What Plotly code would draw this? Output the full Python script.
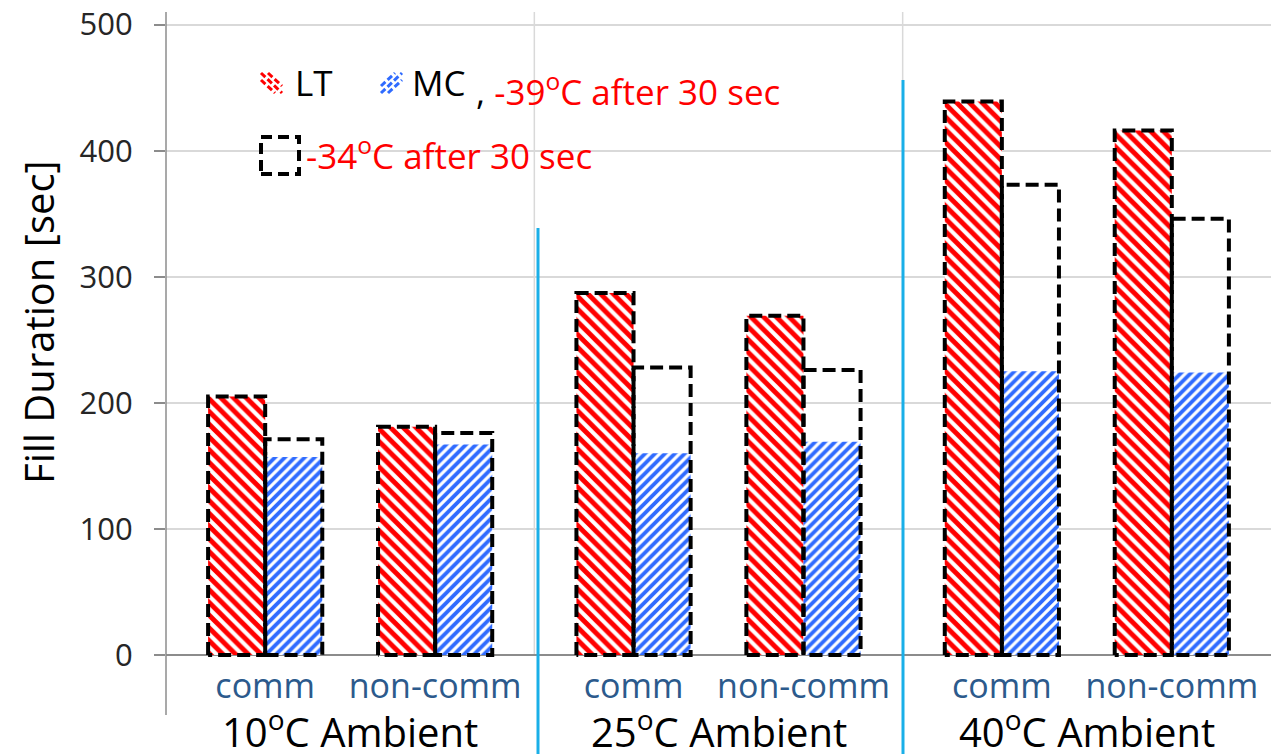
import plotly.graph_objects as go

# ---- data ----
groups = ["10<sup>o</sup>C Ambient", "25<sup>o</sup>C Ambient", "40<sup>o</sup>C Ambient"]
subcats = ["comm", "non-comm"]
lt_fill = [205, 181, 287, 269, 439, 416]        # LT fill duration [sec]
mc_fill_39 = [157, 167, 160, 169, 225, 224]     # MC, -39C after 30 sec
mc_fill_34 = [171, 176, 228, 226, 373, 346]     # MC, -34C after 30 sec
y_ticks = [0, 100, 200, 300, 400, 500]

# ---- layout geometry ----
W, H = 1273, 754
L, R, T, B = 166, 1271, 12, 665
FONT = "Open Sans"
RED = "#FF0000"
BLUE = "#2F6BFF"
SKY = "#1AAFE8"
GRID = "#D9D9D9"
AXIS = "#8C8C8C"
CAT = "#2C5A8C"

PAIR_OFF = 0.2307   # half distance between the two categories of a group
BAR_W = 0.155       # bar width in x units (one group = 1 unit)


def px(xpix):
    return (xpix - L) / (R - L)


def py(ypix):
    return (B - ypix) / (B - T)


centers = [g + 0.5 + (s - 0.5) * 2 * PAIR_OFF
           for g in range(len(groups)) for s in range(len(subcats))]
lt_x = [c - BAR_W / 2 for c in centers]
mc_x = [c + BAR_W / 2 for c in centers]
tick_text = [s for _ in groups for s in subcats]


def outline(xs, vals):
    ox, oy = [], []
    for xc, v in zip(xs, vals):
        x0, x1 = xc - BAR_W / 2, xc + BAR_W / 2
        ox += [x0, x0, x1, x1, x0, None]
        oy += [0, v, v, 0, 0, None]
    return ox, oy


fig = go.Figure()

fig.add_trace(go.Bar(
    x=lt_x, y=lt_fill, width=BAR_W, name="LT", opacity=1,
    marker=dict(color="white", opacity=1, line=dict(width=0),
                pattern=dict(shape="\\", fgcolor=RED, bgcolor="white",
                             fgopacity=1, size=9, solidity=0.55)),
))
fig.add_trace(go.Bar(
    x=mc_x, y=mc_fill_39, width=BAR_W, name="MC", opacity=1,
    marker=dict(color="white", opacity=1, line=dict(width=0),
                pattern=dict(shape="/", fgcolor=BLUE, bgcolor="white",
                             fgopacity=1, size=7, solidity=0.55)),
))

for xs, vals in ((lt_x, lt_fill), (mc_x, mc_fill_34)):
    ox, oy = outline(xs, vals)
    fig.add_trace(go.Scatter(
        x=ox, y=oy, mode="lines", hoverinfo="skip",
        line=dict(color="black", width=4, dash="13px,6px"),
    ))

shapes = []
# group dividers (vertical gridlines)
for g in range(1, len(groups)):
    shapes.append(dict(type="line", xref="x", yref="y", x0=g, x1=g, y0=0, y1=510,
                       line=dict(color=GRID, width=1.5), layer="below"))
# white text-box background behind the legend text
shapes.append(dict(type="rect", xref="paper", yref="paper",
                   x0=px(300), x1=px(622), y0=py(190), y1=py(55),
                   fillcolor="white", line=dict(width=0), layer="between"))
# value axis line, extended down through the category label area
shapes.append(dict(type="line", xref="paper", yref="paper",
                   x0=0, x1=0, y0=py(715), y1=1,
                   line=dict(color=AXIS, width=1.5)))
# separators between ambient groups
shapes.append(dict(type="line", xref="paper", yref="paper",
                   x0=px(538), x1=px(538), y0=py(754), y1=py(228),
                   line=dict(color=SKY, width=3), layer="above"))
shapes.append(dict(type="line", xref="paper", yref="paper",
                   x0=px(903), x1=px(903), y0=py(754), y1=py(80),
                   line=dict(color=SKY, width=3), layer="above"))

# legend swatches
for dx in (-7, 0, 7):
    shapes.append(dict(type="line", xref="paper", yref="paper",
                       x0=px(261 + max(dx, 0)), y0=py(73 - min(dx, 0)),
                       x1=px(282 + min(dx, 0)), y1=py(93 - max(dx, 0)),
                       line=dict(color=RED, width=3, dash="6px,3px"), layer="above"))
    shapes.append(dict(type="line", xref="paper", yref="paper",
                       x0=px(381 + max(dx, 0)), y0=py(93 + min(dx, 0)),
                       x1=px(402 + min(dx, 0)), y1=py(73 + max(dx, 0)),
                       line=dict(color=BLUE, width=3, dash="6px,3px"), layer="above"))
shapes.append(dict(type="rect", xref="paper", yref="paper",
                   x0=px(261), x1=px(299), y0=py(174), y1=py(137),
                   line=dict(color="black", width=4, dash="11px,6px"),
                   fillcolor="rgba(0,0,0,0)", layer="above"))


def note(text, x, y, size, color="black", xanchor="left", xref="paper", **kw):
    return dict(text=text, x=x, y=y, xref=xref, yref="paper",
                xanchor=xanchor, yanchor="middle", showarrow=False,
                font=dict(size=size, color=color, family=FONT), **kw)


annotations = [
    note("Fill Duration [sec]", px(38), py(322), 40, xanchor="center", textangle=-90),
    note("LT", px(293), py(83), 35),
    note("MC", px(410), py(83), 35),
    note("<span style='color:black'>,</span> -39<sup>o</sup>C after 30 sec",
         px(474), py(89), 35, color=RED),
    note("-34<sup>o</sup>C after 30 sec", px(304), py(154), 35, color=RED),
]
for g, name in enumerate(groups):
    annotations.append(note(name, g + 0.5, py(729), 40, xanchor="center", xref="x"))

fig.update_layout(
    width=W, height=H,
    margin=dict(l=L, r=W - R, t=T, b=H - B, pad=0),
    paper_bgcolor="white", plot_bgcolor="white",
    barmode="overlay", showlegend=False,
    font=dict(family=FONT),
    shapes=shapes, annotations=annotations,
    xaxis=dict(range=[0, 3], tickvals=centers, ticktext=tick_text,
               tickfont=dict(size=34, color=CAT, family=FONT),
               showgrid=False, zeroline=False, showline=False, ticks="",
               ticklabelstandoff=-2),
    yaxis=dict(range=[-8, 510], tickvals=y_ticks,
               tickfont=dict(size=31, color="#262626", family=FONT),
               showgrid=True, gridcolor=GRID, gridwidth=1.5,
               zeroline=True, zerolinecolor=AXIS, zerolinewidth=1.5,
               ticks="outside", ticklen=11, tickcolor=AXIS, tickwidth=1.5,
               ticklabelstandoff=15, showline=False),
)

fig.write_html("out.html")
